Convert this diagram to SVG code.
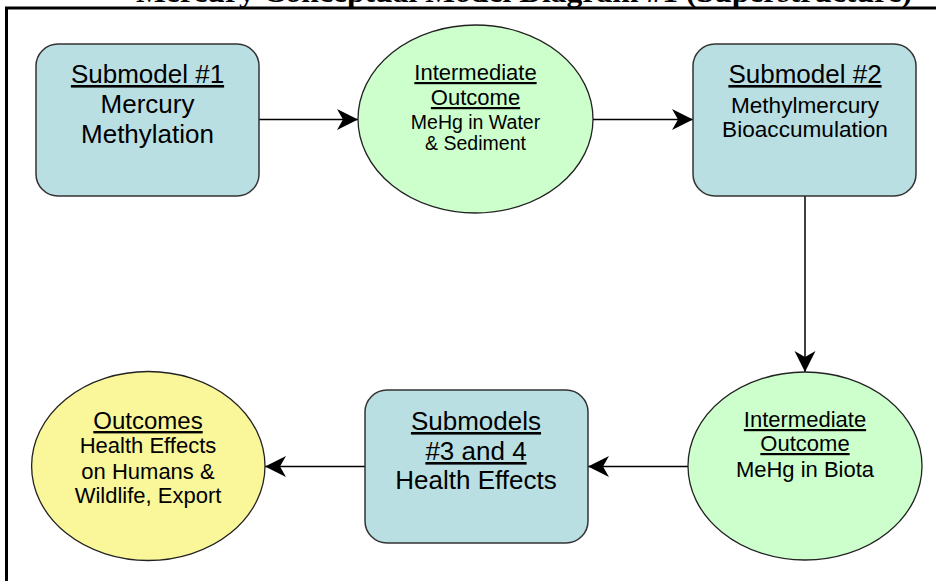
<svg xmlns="http://www.w3.org/2000/svg" width="936" height="581" viewBox="0 0 936 581">
<defs>
<marker id="ah" markerUnits="userSpaceOnUse" markerWidth="22" markerHeight="22" refX="21" refY="10.5" orient="auto">
<path d="M0,0 L21,10.5 L0,21 L6,10.5 Z" fill="#000"/>
</marker>
<style>
.box{fill:#B9DFE3;stroke:#333;stroke-width:1.5}
.grn{fill:#CCFFCC;stroke:#222;stroke-width:1.3}
.yel{fill:#F9F79A;stroke:#222;stroke-width:1.3}
.t{font-family:"Liberation Sans",Arial,sans-serif;fill:#000;text-anchor:middle}
.u{text-decoration:underline}
.c{stroke:#000;stroke-width:1.5;fill:none;marker-end:url(#ah)}
.title{font-family:"Liberation Serif","Times New Roman",serif;font-weight:bold;font-size:30px;fill:#000}
</style>
</defs>
<rect x="0" y="0" width="936" height="581" fill="#fff"/>
<text class="title" x="136" y="2" textLength="776" lengthAdjust="spacingAndGlyphs">Mercury Conceptual Model Diagram #1 (Superstructure)</text>
<path d="M936,8 H6.5 V581" fill="none" stroke="#000" stroke-width="3"/>
<g id="connectors">
<line class="c" x1="259" y1="119.5" x2="358" y2="119.5"/>
<line class="c" x1="593" y1="119.5" x2="693" y2="119.5"/>
<line class="c" x1="805" y1="196" x2="805" y2="372"/>
<line class="c" x1="688" y1="466.5" x2="588" y2="466.5"/>
<line class="c" x1="365" y1="466.5" x2="265" y2="466.5"/>
</g>
<g id="submodel1">
<rect class="box" x="36" y="44" width="223" height="152" rx="22"/>
<text class="t u" x="147.5" y="83" font-size="26">Submodel #1</text>
<text class="t" x="147.5" y="113" font-size="26">Mercury</text>
<text class="t" x="147.5" y="143" font-size="26">Methylation</text>
</g>
<g id="intermediate1">
<ellipse class="grn" cx="475.5" cy="119" rx="117.5" ry="94"/>
<text class="t u" x="475.5" y="80" font-size="22">Intermediate</text>
<text class="t u" x="475.5" y="105" font-size="22">Outcome</text>
<text class="t" x="475.5" y="129" font-size="19.5">MeHg in Water</text>
<text class="t" x="475.5" y="150" font-size="19.5">&amp; Sediment</text>
</g>
<g id="submodel2">
<rect class="box" x="693" y="44" width="223" height="152" rx="22"/>
<text class="t u" x="805" y="83" font-size="26">Submodel #2</text>
<text class="t" x="805" y="113" font-size="22.6">Methylmercury</text>
<text class="t" x="805" y="137" font-size="22.6">Bioaccumulation</text>
</g>
<g id="intermediate2">
<ellipse class="grn" cx="805" cy="466" rx="117" ry="94"/>
<text class="t u" x="805" y="427" font-size="22">Intermediate</text>
<text class="t u" x="805" y="451" font-size="22">Outcome</text>
<text class="t" x="805" y="477" font-size="22">MeHg in Biota</text>
</g>
<g id="submodels34">
<rect class="box" x="365" y="390" width="223" height="153" rx="22"/>
<text class="t u" x="476" y="430" font-size="26">Submodels</text>
<text class="t u" x="476" y="460" font-size="26">#3 and 4</text>
<text class="t" x="476" y="489" font-size="26">Health Effects</text>
</g>
<g id="outcomes">
<ellipse class="yel" cx="148.3" cy="466" rx="116.7" ry="94.5"/>
<text class="t u" x="148" y="429" font-size="24">Outcomes</text>
<text class="t" x="148" y="453" font-size="22">Health Effects</text>
<text class="t" x="148" y="479" font-size="22">on Humans &amp;</text>
<text class="t" x="148" y="503" font-size="22">Wildlife, Export</text>
</g>
</svg>
